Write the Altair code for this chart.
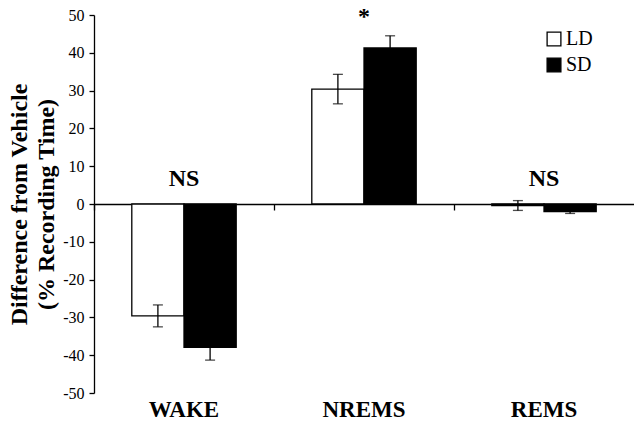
import altair as alt
import pandas as pd

categories = ["WAKE", "NREMS", "REMS"]
groups = ["LD", "SD"]
ld_mean = [-29.6, 30.4, -0.4]
ld_err = [2.9, 3.9, 1.3]
sd_mean = [-37.9, 41.3, -2.0]
sd_err = [3.4, 3.2, 0.5]
annot_labels = ["NS", "*", "NS"]
annot_y = [6.5, 49.5, 6.5]

rows = []
for i, c in enumerate(categories):
    rows.append({"cat": c, "grp": "LD", "mean": ld_mean[i], "lo": ld_mean[i] - ld_err[i], "hi": ld_mean[i] + ld_err[i]})
    rows.append({"cat": c, "grp": "SD", "mean": sd_mean[i], "lo": sd_mean[i] - sd_err[i], "hi": sd_mean[i] + sd_err[i]})
df = pd.DataFrame(rows)
ann = pd.DataFrame({"cat": categories, "label": annot_labels, "y": annot_y})

FONT = "Liberation Serif"
xscale = alt.Scale(domain=categories, paddingInner=0.42, paddingOuter=0.21)
yscale = alt.Scale(domain=[-50, 50], nice=False)
xoff = alt.XOffset("grp:N", scale=alt.Scale(domain=groups, paddingInner=0, paddingOuter=0))

bars = alt.Chart(df).mark_bar(stroke="black", strokeWidth=1.3).encode(
    x=alt.X("cat:N", scale=xscale, sort=categories,
            axis=alt.Axis(orient="bottom", title=None, domain=False, ticks=False, labelAngle=0,
                          labelFont=FONT, labelFontSize=23, labelFontWeight="bold",
                          labelColor="black", labelPadding=5)),
    xOffset=xoff,
    y=alt.Y("mean:Q", scale=yscale,
            axis=alt.Axis(values=list(range(-50, 51, 10)), grid=False, domainColor="black",
                          domainWidth=1.3, tickWidth=1.3,
                          tickColor="black", tickSize=5, labelFont=FONT, labelFontSize=16,
                          labelColor="black", labelPadding=5,
                          labelExpr="'' + datum.value",
                          title=["Difference from Vehicle", "(% Recording Time)"],
                          titleFont=FONT, titleFontSize=24, titleFontWeight="bold",
                          titleColor="black", titlePadding=4, titleLineHeight=27)),
    fill=alt.Fill("grp:N", scale=alt.Scale(domain=groups, range=["white", "black"]),
                  legend=alt.Legend(title=None, orient="none", legendX=450, legendY=14,
                                    symbolType="square", symbolSize=190,
                                    symbolStrokeColor="black", symbolStrokeWidth=1.3,
                                    labelFont=FONT, labelFontSize=20, labelColor="black",
                                    rowPadding=6, labelOffset=2)),
)

zero_axis = alt.Chart(df).mark_rule(stroke="black", strokeWidth=1.3).encode(
    x=alt.X("cat:N", scale=xscale, sort=categories,
            axis=alt.Axis(orient="bottom", offset=-189, title=None, labels=False,
                          domain=True, domainColor="black", domainWidth=1.3,
                          ticks=True, tickColor="black", tickSize=6, tickWidth=1.3,
                          bandPosition=-0.362)),
    xOffset=xoff,
    y=alt.Y("lo:Q", scale=yscale, axis=None),
    y2="hi:Q",
)

caps_lo = alt.Chart(df).mark_tick(color="black", size=10, thickness=1.3).encode(
    x=alt.X("cat:N", scale=xscale, sort=categories, axis=None),
    xOffset=xoff,
    y=alt.Y("lo:Q", scale=yscale, axis=None),
)
caps_hi = alt.Chart(df).mark_tick(color="black", size=10, thickness=1.3).encode(
    x=alt.X("cat:N", scale=xscale, sort=categories, axis=None),
    xOffset=xoff,
    y=alt.Y("hi:Q", scale=yscale, axis=None),
)

text = alt.Chart(ann).mark_text(font=FONT, fontSize=24, fontWeight="bold", color="black",
                                baseline="middle").encode(
    x=alt.X("cat:N", scale=xscale, sort=categories, axis=None),
    y=alt.Y("y:Q", scale=yscale, axis=None),
    text="label:N",
)

chart = alt.layer(bars, zero_axis, caps_lo, caps_hi, text).resolve_axis(
    x="independent", y="independent"
).properties(
    width=540, height=378,
    autosize=alt.AutoSizeParams(type="none"),
    padding={"left": 94, "top": 15, "right": 0, "bottom": 33},
    background="white",
).configure_view(strokeWidth=0)

chart.save("out.html", embed_options={"renderer": "svg", "actions": False})
